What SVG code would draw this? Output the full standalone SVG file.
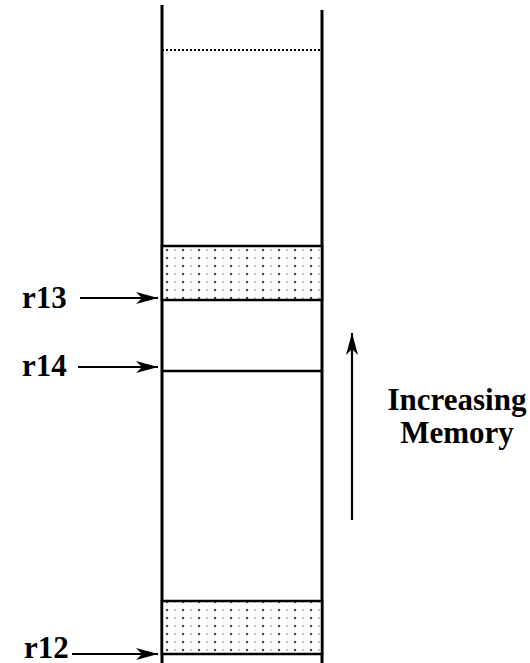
<svg xmlns="http://www.w3.org/2000/svg" width="530" height="663" viewBox="0 0 530 663">
<style>
.wall{stroke:#000;stroke-width:3;fill:none}
.sep{stroke:#000;stroke-width:2.5}
.arr{stroke:#000;stroke-width:2.2;fill:none}
.lbl{font-family:"Liberation Serif","Times New Roman",serif;font-weight:bold;font-size:31px;fill:#000}
</style>
<defs>
<pattern id="dots" x="162" y="246" width="16" height="8" patternUnits="userSpaceOnUse">
<rect width="16" height="8" fill="#fff"/>
<circle cx="5" cy="4" r="1.2" fill="#444"/>
<circle cx="13" cy="4" r="0.8" fill="#777"/>
</pattern>
<marker id="ah" viewBox="0 0 22 12" refX="22" refY="6" markerWidth="22" markerHeight="12" markerUnits="userSpaceOnUse" orient="auto">
<path d="M0,0 L22,6 L0,12 L6,6 Z" fill="#000"/>
</marker>
</defs>
<g id="memory-column">
<line class="wall" x1="162" y1="5" x2="162" y2="663"/>
<line class="wall" x1="322" y1="10" x2="322" y2="663"/>
<line x1="162" y1="50" x2="322" y2="50" stroke="#000" stroke-width="2" stroke-dasharray="2,2"/>
</g>
<g id="block-top">
<rect x="162" y="246" width="160" height="54" fill="url(#dots)" class="sep"/>
</g>
<g id="r14-line">
<line class="sep" x1="162" y1="371" x2="322" y2="371"/>
</g>
<g id="block-bottom">
<rect x="162" y="601" width="160" height="53" fill="url(#dots)" class="sep"/>
</g>
<g id="label-r13"><text class="lbl" x="22" y="308">r13</text></g>
<g id="label-r14"><text class="lbl" x="22" y="376">r14</text></g>
<g id="label-r12"><text class="lbl" x="24" y="658">r12</text></g>
<g id="label-memory">
<text class="lbl" x="457" y="410" text-anchor="middle">Increasing</text>
<text class="lbl" x="457" y="443" text-anchor="middle">Memory</text>
</g>
<g id="connectors">
<line class="arr" x1="80" y1="298" x2="158" y2="298" marker-end="url(#ah)"/>
<line class="arr" x1="78" y1="367" x2="158" y2="367" marker-end="url(#ah)"/>
<line class="arr" x1="72" y1="654" x2="158" y2="654" marker-end="url(#ah)"/>
<line class="arr" x1="352" y1="520" x2="352" y2="333" marker-end="url(#ah)"/>
</g>
</svg>
